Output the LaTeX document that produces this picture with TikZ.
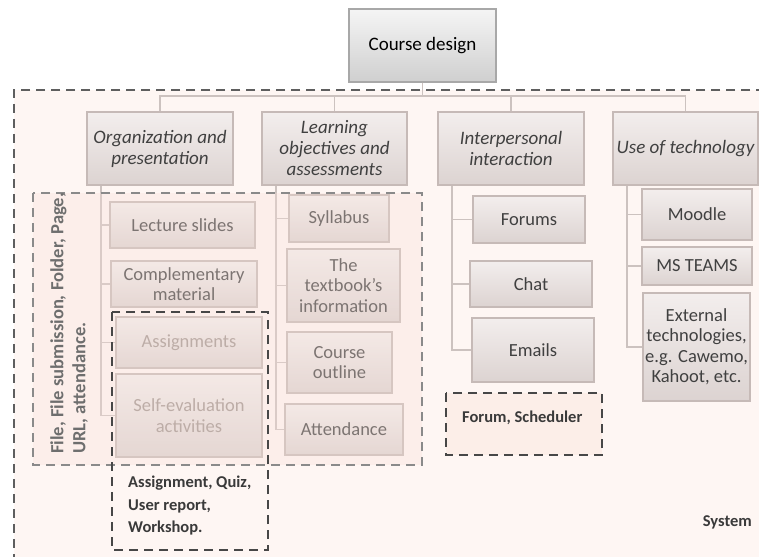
\documentclass[tikz,border=0pt]{standalone}
\usepackage{fontspec}
\setmainfont{Carlito}
\usetikzlibrary{calc}

\definecolor{pagebg}{HTML}{FFFFFF}
\definecolor{sysfill}{HTML}{FEF6F3}
\definecolor{veil}{HTML}{F8E0D8}
\definecolor{tagfill}{HTML}{FCEEE8}
\definecolor{sysedge}{HTML}{5E5E5E}
\definecolor{zoneedge}{HTML}{8A8A8A}
\definecolor{quizedge}{HTML}{474747}
\definecolor{linkc}{HTML}{CCC2BF}
\definecolor{topedge}{HTML}{A8A8A8}
\definecolor{topA}{HTML}{F5F5F5}
\definecolor{topB}{HTML}{CFCFCF}
\definecolor{boxedge}{HTML}{C6BAB7}
\definecolor{boxA}{HTML}{F3EEED}
\definecolor{boxB}{HTML}{DCD3D1}
\definecolor{boxtext}{HTML}{404040}
\definecolor{faint}{HTML}{A0948F}
\definecolor{tagtextc}{HTML}{3A3A3A}
\definecolor{sidetext}{HTML}{6E6E6E}

\tikzset{
  link/.style={draw=linkc, line width=1.7pt},
  topbox/.style={draw=topedge, line width=1.3pt, top color=topA, bottom color=topB,
    align=center, inner sep=1pt, text=black, font=\fontsize{19}{21}\selectfont},
  catbox/.style={draw=boxedge, line width=1.5pt, top color=boxA, bottom color=boxB,
    align=center, inner sep=1pt, text=boxtext, font=\fontsize{19}{21}\selectfont\itshape},
  leafbox/.style={catbox, font=\fontsize{18.5}{20.5}\selectfont},
  fadedbox/.style={leafbox, text=faint},
  sysline/.style={draw=sysedge, line width=1.8pt, dash pattern=on 9pt off 6pt},
  zoneline/.style={draw=zoneedge, line width=1.8pt, dash pattern=on 9pt off 6pt},
  quizline/.style={draw=quizedge, line width=1.8pt, dash pattern=on 9pt off 6pt},
  tagtext/.style={font=\fontsize{16.5}{22.5}\selectfont\bfseries, text=tagtextc,
    inner sep=0pt, align=left},
}

\begin{document}
\begin{tikzpicture}[x=1pt, y=-1pt]
  % canvas
  \path[fill=pagebg, use as bounding box] (0,0) rectangle (759,556);
  \clip (0,0) rectangle (759,556);

  % outer "System" region, open towards the right and bottom
  \fill[sysfill] (14,90) rectangle (780,580);
  \draw[sysline] (780,90) -- (14,90) -- (14,580);

  % root and categories
  \node[topbox, minimum width=147pt, minimum height=73pt] (cd) at (422.5,45.5) {Course design};

  \node[catbox, minimum width=146pt, minimum height=73pt] (org)  at (160,148.5)   {Organization and\\presentation};
  \node[catbox, minimum width=145pt, minimum height=73pt] (lrn)  at (334.5,148.5) {Learning\\objectives and\\assessments};
  \node[catbox, minimum width=146pt, minimum height=73pt] (ipi)  at (511,148.5)   {Interpersonal\\interaction};
  \node[catbox, minimum width=145pt, minimum height=73pt] (tech) at (685.5,148.5) {Use of technology};

  % leaves: organization and presentation
  \node[leafbox, minimum width=145pt, minimum height=46pt] (lect) at (182.5,225) {Lecture slides};
  \node[leafbox, minimum width=146pt, minimum height=46pt] (comp) at (184,284)   {Complementary\\material};
  \node[fadedbox, minimum width=146pt, minimum height=51pt] (asg) at (189,342.5) {Assignments};
  \node[fadedbox, minimum width=146pt, minimum height=83pt] (self) at (189,415.5) {Self-evaluation\\activities};

  % leaves: learning objectives and assessments
  \node[leafbox, minimum width=100pt, minimum height=47pt] (syl) at (339,218.5)   {Syllabus};
  \node[leafbox, minimum width=113pt, minimum height=73pt] (txt) at (343.5,285.5) {The\\textbook’s\\information};
  \node[leafbox, minimum width=105pt, minimum height=61pt] (out) at (339.5,362.5) {Course\\outline};
  \node[leafbox, minimum width=118pt, minimum height=51pt] (att) at (344,429.5)   {Attendance};

  % leaves: interpersonal interaction
  \node[leafbox, minimum width=112pt, minimum height=47pt] (for)  at (529,219.5) {Forums};
  \node[leafbox, minimum width=122pt, minimum height=46pt] (chat) at (531,284)   {Chat};
  \node[leafbox, minimum width=122pt, minimum height=64pt] (mail) at (533,350)   {Emails};

  % leaves: use of technology
  \node[leafbox, minimum width=110pt, minimum height=51pt]  (mdl) at (697,214.5) {Moodle};
  \node[leafbox, minimum width=110pt, minimum height=38pt]  (mst) at (697,266)   {MS TEAMS};
  \node[leafbox, minimum width=107pt, minimum height=108pt] (ext) at (696.5,347) {External\\technologies,\\e.g. Cawemo,\\Kahoot, etc.};

  % connectors: root to categories, categories to their leaves
  \foreach \c in {org,lrn,ipi,tech}
    \draw[link] (cd.south) |- ([yshift=15pt]\c.north) -- (\c.north);
  \foreach \p/\k in {org/lect,org/comp,org/asg,org/self,
                     lrn/syl,lrn/txt,lrn/out,lrn/att,
                     ipi/for,ipi/chat,ipi/mail,
                     tech/mdl,tech/mst,tech/ext}
    \draw[link] ([xshift=15pt]\p.south west) |- (\k.west);

  % Moodle resources zone over the first two columns (translucent veil)
  \fill[veil, fill opacity=0.33] (33,193) rectangle (422,465);
  \draw[zoneline] (33,193) rectangle (422,465);
  \node[tagtext, text=sidetext, rotate=90, anchor=north west,
        font=\fontsize{18.6}{22}\selectfont\bfseries] (res) at (50,454)
    {File, File submission, Folder, Page,\\URL, attendance.};

  % quiz-type activities zone
  \draw[quizline] (112,312) rectangle (268,550);
  \node[tagtext, anchor=north west] (quiz) at (128,476)
    {Assignment, Quiz,\\User report,\\Workshop.};

  % communication zone
  \draw[quizline, fill=tagfill] (446,393) rectangle (602,455);
  \node[tagtext, anchor=west] (fsch) at (462,418) {Forum, Scheduler};

  \node[tagtext, anchor=east] (sys) at (752,522) {System};
\end{tikzpicture}
\end{document}
